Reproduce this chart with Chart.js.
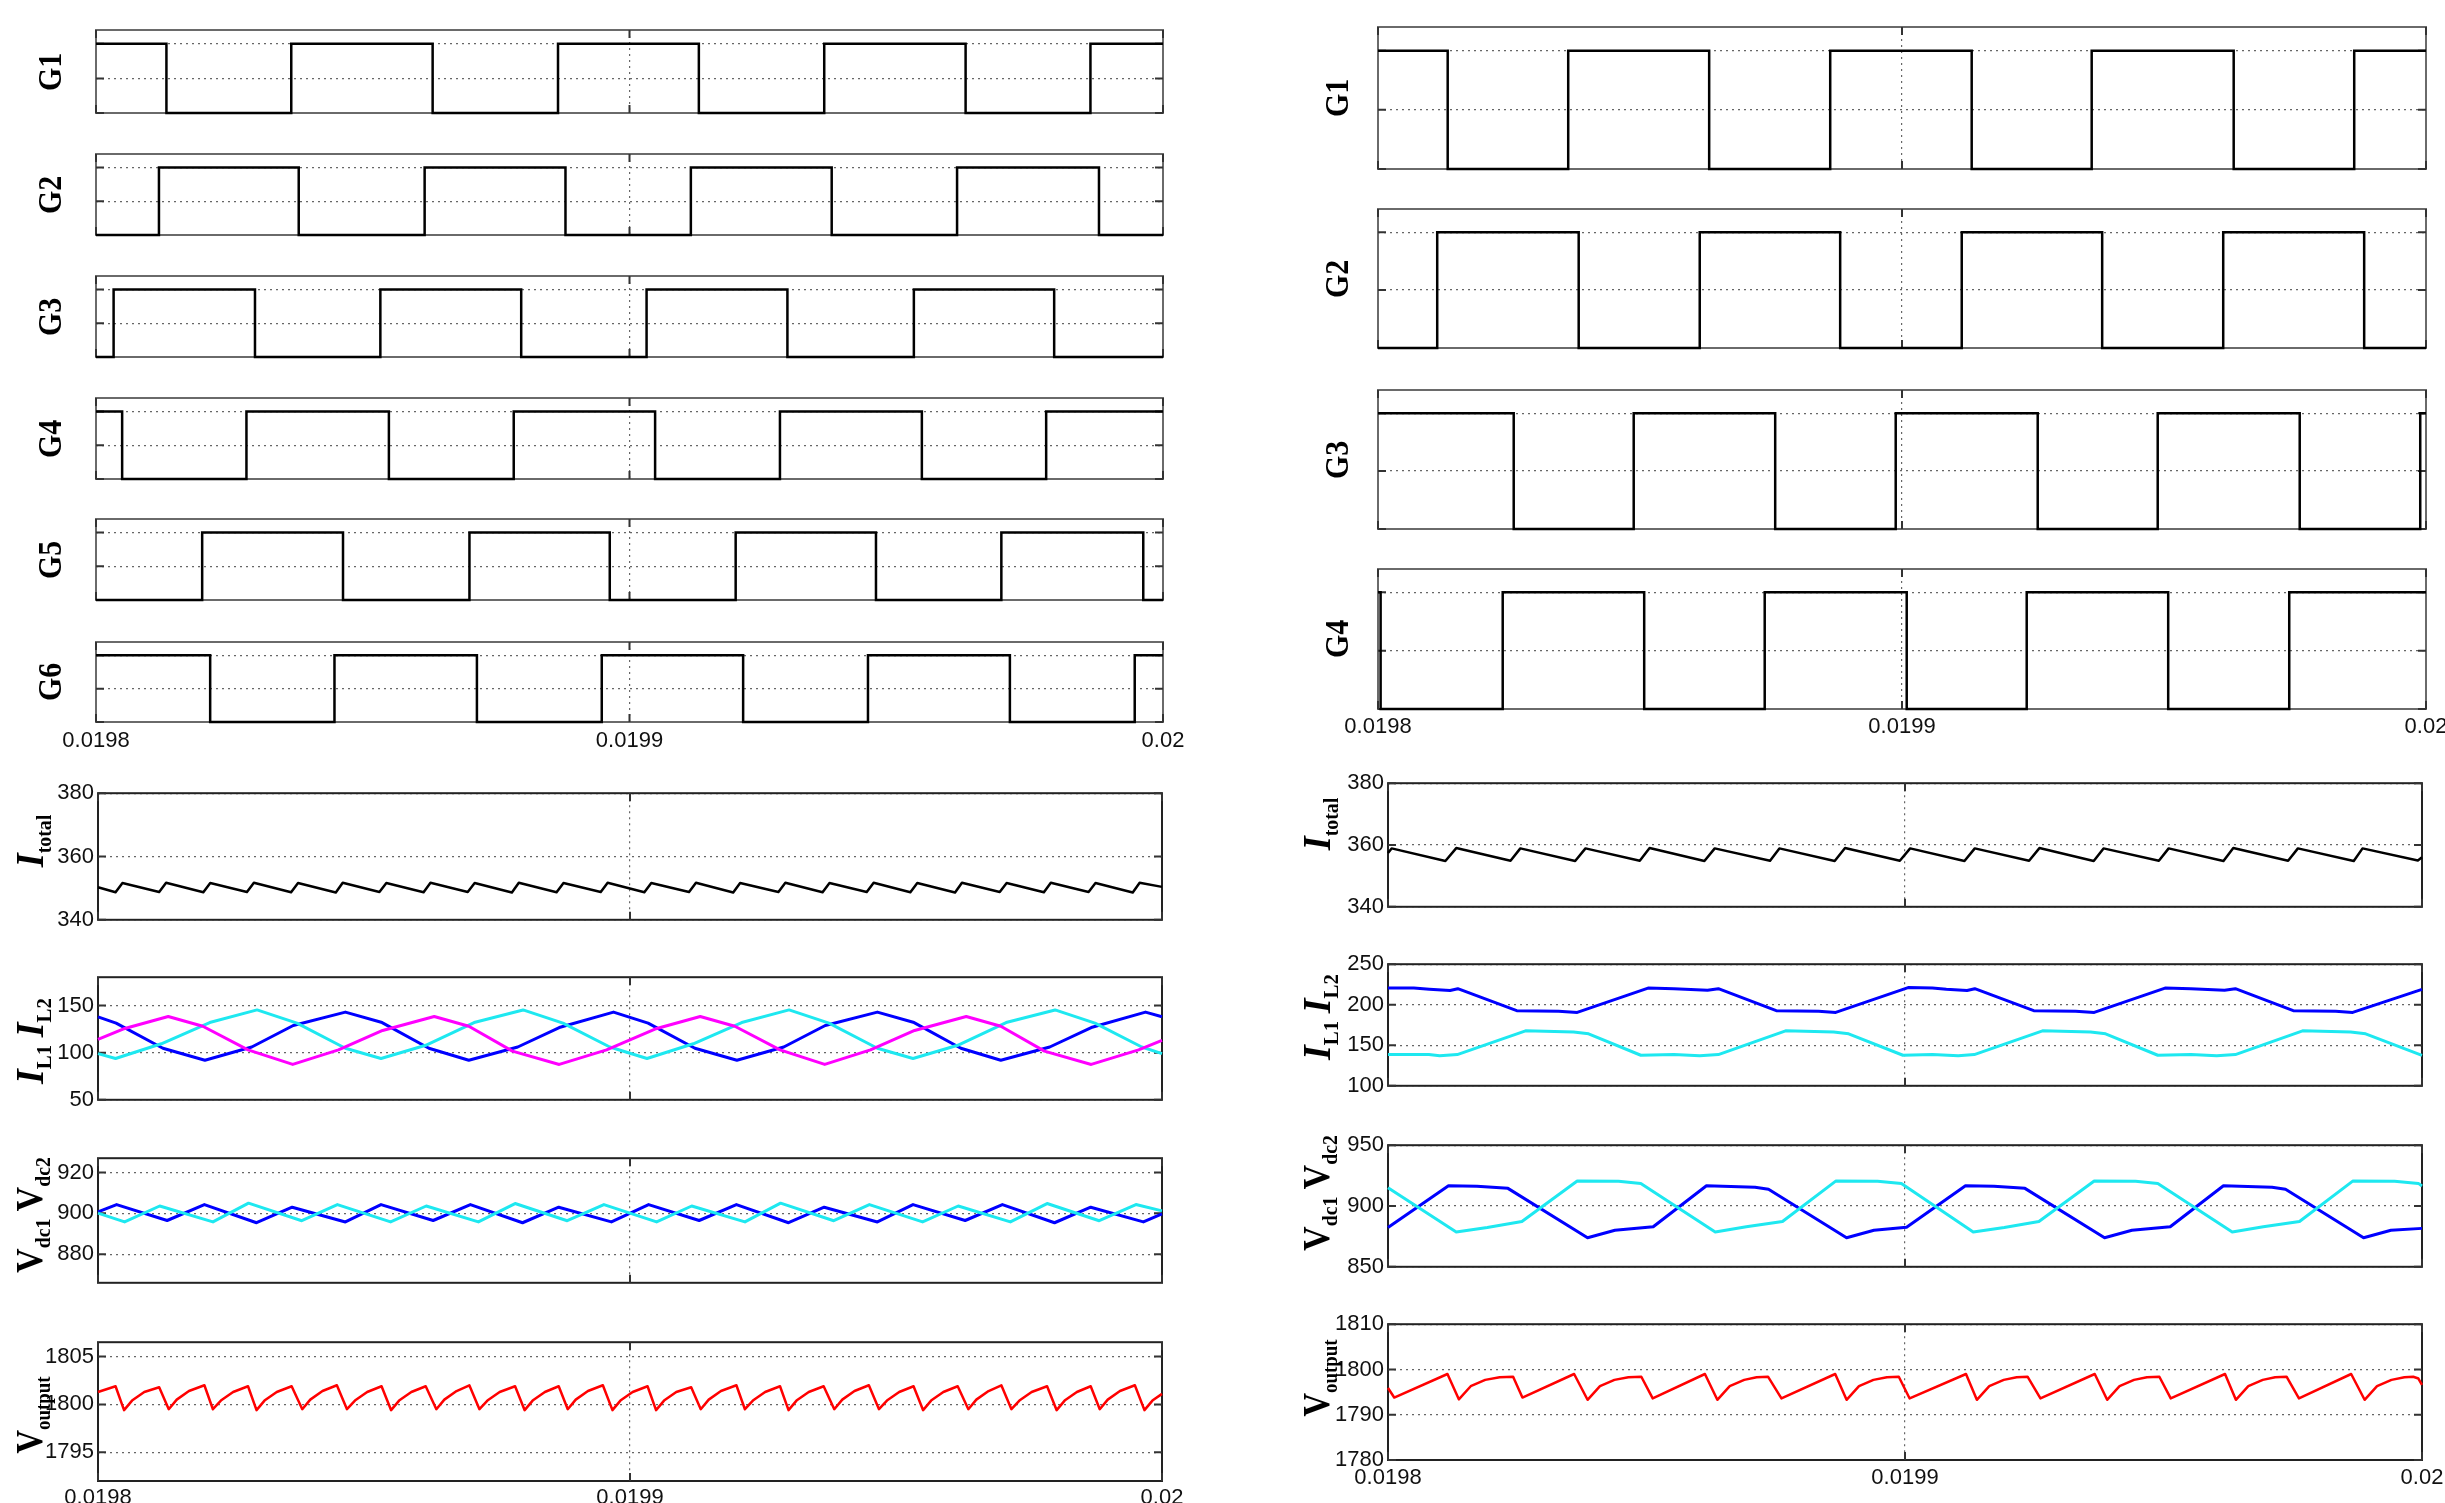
<!DOCTYPE html>
<html>
<head>
<meta charset="utf-8">
<title>Gate signals and converter waveforms</title>
<script src="https://cdn.jsdelivr.net/npm/chart.js@4.4.1/dist/chart.umd.min.js"></script>
<style>
  html, body { margin: 0; padding: 0; background: #fff; }
  body { width: 2445px; height: 1503px; position: relative; overflow: hidden; }
  canvas { position: absolute; }
  .ylab { position: absolute; white-space: nowrap; font-family: "Liberation Serif", "DejaVu Serif", serif;
          font-weight: bold; color: #000; line-height: 1; z-index: 5; font-size: 16px; }
  .ylab .g { font-size: 34px; }
  .ylab .v { font-size: 38px; }
  .ylab .i { font-size: 40px; font-style: italic; }
  .ylab sub { font-size: 22px; vertical-align: -8px; }
</style>
</head>
<body>
<script>
// time axis: microseconds after 0.0198 s
const xTickValues = [0, 100, 200];
const xTickLabels = ['0.0198', '0.0199', '0.02'];

// gate switching instants (us), left figure (6 phases)
const gLStart = [1, 0, 0, 1, 0, 1];
const gL1 = [13.2, 36.6, 63.1, 86.6, 113.0, 136.5, 163.0, 186.4];
const gL2 = [11.8, 38.0, 61.6, 88.0, 111.5, 137.9, 161.4, 188.0];
const gL3 = [3.3, 29.8, 53.3, 79.7, 103.2, 129.6, 153.3, 179.6];
const gL4 = [4.9, 28.2, 54.9, 78.3, 104.8, 128.2, 154.8, 178.1];
const gL5 = [19.9, 46.3, 70.0, 96.3, 119.9, 146.2, 169.7, 196.3];
const gL6 = [21.4, 44.7, 71.4, 94.8, 121.3, 144.7, 171.3, 194.7];

// gate switching instants (us), right figure (4 phases)
const gRStart = [1, 0, 1, 1];
const gR1 = [13.3, 36.3, 63.2, 86.3, 113.3, 136.2, 163.3, 186.3];
const gR2 = [11.3, 38.3, 61.4, 88.2, 111.4, 138.2, 161.3, 188.2];
const gR3 = [25.9, 48.8, 75.8, 98.8, 125.9, 148.8, 175.9, 198.9];
const gR4 = [0.5, 23.8, 50.8, 73.8, 100.9, 123.8, 150.8, 173.9];

// I_total, left
const itotL = [[0,350.3],[3.3,348.7],[4.6,351.6],[11.5,348.8],[12.8,351.7],[19.8,348.7],[21.1,351.6],[28.0,348.8],[29.3,351.7],
  [36.3,348.7],[37.6,351.6],[44.7,348.6],[46.0,351.7],[52.9,348.8],[54.2,351.6],[61.2,348.7],[62.5,351.7],[69.5,348.8],[70.8,351.6],
  [77.8,348.6],[79.1,351.7],[86.2,348.7],[87.5,351.6],[94.5,348.8],[95.8,351.7],[102.7,348.7],[104.0,351.6],[111.1,348.8],[112.4,351.7],
  [119.4,348.6],[120.7,351.6],[127.9,348.8],[129.2,351.7],[136.2,348.7],[137.5,351.6],[144.5,348.8],[145.8,351.7],[152.7,348.7],[154.0,351.6],
  [161.1,348.6],[162.4,351.7],[169.5,348.8],[170.8,351.6],[177.8,348.7],[179.1,351.7],[186.2,348.8],[187.5,351.6],[194.5,348.6],[195.8,351.7],[200,350.4]];

// I_L currents, left (magenta, cyan, blue)
const ilL_m = [[0,114],[4.7,125],[13.2,138.4],[19.7,128],[28.2,103],[36.6,87.5],[45.2,103],[53.5,123.5],[63.2,138.4],[69.7,128],[77.9,101.6],
  [86.7,87.5],[95.6,103],[104.7,125],[113.2,138.4],[119.7,128],[128.2,103],[136.6,87.5],[145.2,103],[153.5,123.5],[163.2,138.4],[169.7,128],
  [177.9,101.6],[186.7,87.5],[195.6,103],[200,113]];
const ilL_c = [[0,99],[3.3,93.8],[11.9,109.4],[21.0,131.9],[29.9,145.3],[37.4,131.3],[46.5,104.7],[53.2,93.8],[61.6,107.8],[70.7,131.9],
  [79.9,145.3],[87.4,131.3],[96.2,106],[103.2,93.8],[111.9,109.4],[121.0,131.9],[129.9,145.3],[137.4,131.3],[146.5,104.7],[153.2,93.8],
  [161.6,107.8],[170.7,131.9],[179.9,145.3],[187.4,131.3],[196.2,106],[200,99]];
const ilL_b = [[0,138],[3.4,131.3],[12.2,104.7],[20.1,92],[28.9,106],[36.7,128.8],[46.5,143],[53.4,131.9],[62.2,104.7],[69.7,92],[78.9,106],
  [86.7,126.6],[96.9,143],[103.4,131.3],[112.2,104.7],[120.1,92],[128.9,106],[136.7,128.8],[146.5,143],[153.4,131.9],[162.2,104.7],[169.7,92],
  [178.9,106],[186.7,126.6],[196.9,143],[200,138]];

// V_dc1 (blue) and V_dc2 (cyan), left
const vdcL_b = [[0,900.7],[3.5,904.3],[13.0,896.5],[20.0,904.3],[29.8,895.4],[36.5,903.0],[46.5,895.8],[53.2,904.3],[63.0,896.5],[70.0,904.3],
  [79.8,895.4],[86.6,903.0],[96.5,895.8],[103.5,904.3],[113.0,896.5],[120.0,904.3],[129.8,895.4],[136.5,903.0],[146.5,895.8],[153.2,904.3],
  [163.0,896.5],[170.0,904.3],[179.8,895.4],[186.6,903.0],[196.5,895.8],[200,899.8]];
const vdcL_c = [[0,900.1],[5.0,895.8],[11.6,903.6],[21.6,895.8],[28.3,905.0],[38.3,896.4],[45.0,904.3],[55.0,895.8],[61.7,903.6],[71.5,895.8],
  [78.4,904.8],[88.2,896.4],[95.1,904.3],[105.0,895.8],[111.6,903.6],[121.6,895.8],[128.3,905.0],[138.3,896.4],[145.0,904.3],[155.0,895.8],
  [161.7,903.6],[171.5,895.8],[178.4,904.8],[188.2,896.4],[195.1,904.3],[200,901.2]];

// V_output, left
const voutL = [[0,1801.3],[3.3,1801.9],
  [4.9,1799.4],[6.4,1800.4],[8.7,1801.3],[11.5,1801.8],[13.3,1799.5],[14.8,1800.5],[17.1,1801.4],[20.0,1802.0],
  [21.6,1799.5],[23.1,1800.4],[25.4,1801.3],[28.2,1801.9],[29.8,1799.4],[31.3,1800.4],[33.6,1801.3],[36.4,1801.9],
  [38.4,1799.5],[39.9,1800.5],[42.2,1801.4],[44.9,1802.0],[46.8,1799.5],[48.3,1800.4],[50.6,1801.3],[53.3,1801.9],
  [55.1,1799.4],[56.6,1800.4],[58.9,1801.3],[61.6,1801.9],[63.6,1799.5],[65.1,1800.5],[67.4,1801.4],[69.8,1802.0],
  [71.7,1799.5],[73.2,1800.4],[75.5,1801.3],[78.4,1801.9],[80.2,1799.4],[81.7,1800.4],[84.0,1801.3],[86.6,1801.9],
  [88.3,1799.5],[89.8,1800.5],[92.1,1801.4],[94.9,1802.0],[96.7,1799.4],[98.2,1800.4],[100.5,1801.3],[103.3,1801.9],
  [104.9,1799.4],[106.4,1800.4],[108.7,1801.3],[111.5,1801.8],[113.3,1799.5],[114.8,1800.5],[117.1,1801.4],[120.0,1802.0],
  [121.6,1799.5],[123.1,1800.4],[125.4,1801.3],[128.2,1801.9],[129.8,1799.4],[131.3,1800.4],[133.6,1801.3],[136.4,1801.9],
  [138.4,1799.5],[139.9,1800.5],[142.2,1801.4],[144.9,1802.0],[146.8,1799.5],[148.3,1800.4],[150.6,1801.3],[153.3,1801.9],
  [155.1,1799.4],[156.6,1800.4],[158.9,1801.3],[161.6,1801.9],[163.6,1799.5],[165.1,1800.5],[167.4,1801.4],[169.8,1802.0],
  [171.7,1799.5],[173.2,1800.4],[175.5,1801.3],[178.4,1801.9],[180.2,1799.4],[181.7,1800.4],[184.0,1801.3],[186.6,1801.9],
  [188.3,1799.5],[189.8,1800.5],[192.1,1801.4],[194.9,1802.0],[196.7,1799.4],[198.2,1800.4],[200,1801.1]];

// I_total, right
const itotR = [[0,357.4],[0.7,358.9],[11.1,354.8],[13.2,359.0],[23.7,354.9],[25.6,358.9],[36.2,354.8],[38.2,358.9],[48.7,354.9],[50.6,359.0],
  [61.2,354.8],[63.2,358.9],[73.9,354.9],[75.7,358.9],[86.4,354.8],[88.4,359.0],[99.0,354.9],[101.0,358.9],[111.5,354.8],[113.5,358.9],
  [124.0,354.9],[126.0,359.0],[136.5,354.8],[138.4,358.9],[149.1,354.9],[151.0,358.9],[161.6,354.8],[163.5,359.0],[174.1,354.9],[176.0,358.9],
  [186.8,354.8],[188.5,358.9],[199.2,355.0],[200,356.0]];

// I_L1 (blue) and I_L2 (cyan), right
const ilR_b = [[0,220.5],[5,220.5],[8,219],[12,217.5],[13.5,219.8],[24.9,192.7],[33,192],[36.6,190.5],[50.3,220.5],[55.3,219.8],[61.8,217.8],
  [63.9,219.8],[75.1,192.7],[83.3,192],[86.6,190.5],[100.6,221.2],[105.3,220.5],[108,219],[112,217.5],[113.5,219.8],[124.9,192.7],[133,192],
  [136.6,190.5],[150.3,220.5],[155.3,219.8],[161.8,217.8],[163.9,219.8],[175.1,192.7],[183.3,192],[186.6,190.5],[200,219]];
const ilR_c = [[0,138.5],[7.9,138.5],[10,137],[13.4,138.5],[26.6,167.8],[35.9,166.3],[38.8,164.1],[48.9,137.7],[55.3,138.5],[60.3,137],
  [63.9,138.5],[76.9,167.8],[86.2,166.3],[89.1,164.1],[99.6,137.7],[105.3,138.5],[110.3,137],[113.4,138.5],[126.6,167.8],[135.9,166.3],
  [138.8,164.1],[148.9,137.7],[155.3,138.5],[160.3,137],[163.9,138.5],[176.9,167.8],[186.2,166.3],[189.1,164.1],[200,137.5]];

// V_dc1 (blue) and V_dc2 (cyan), right
const vdcR_b = [[0,882.4],[11.7,916.7],[17.2,916.2],[23.2,914.5],[38.6,873.9],[43.9,880],[51.3,882.9],[61.6,916.7],[71,915.5],[73.6,913.8],
  [88.7,873.9],[94,880],[100.3,882.6],[111.7,916.7],[117.2,916.2],[123.2,914.5],[138.6,873.9],[143.9,880],[151.3,882.9],[161.6,916.7],
  [171,915.5],[173.6,913.8],[188.7,873.9],[194,880],[200,881.6]];
const vdcR_c = [[0,915],[13.2,878.7],[19.2,882.4],[25.9,887.2],[36.6,920.5],[44.6,920.3],[48.9,918.6],[63.3,878.7],[69.3,882.9],[76.3,887.2],
  [86.6,920.5],[94.7,920.3],[99.3,918.6],[113.2,878.7],[119.2,882.4],[125.9,887.2],[136.6,920.5],[144.6,920.3],[148.9,918.6],[163.3,878.7],
  [169.3,882.9],[176.3,887.2],[186.6,920.5],[194.7,920.3],[199.3,918.6],[200,916.5]];

// V_output, right
const voutR = [[0,1795.9],[1.2,1793.8],[11.5,1799.0],[13.7,1793.4],[16.0,1796.3],[18.8,1797.7],[21.6,1798.3],[24.2,1798.4],[26.0,1793.8],
  [36.0,1799.0],[38.6,1793.3],[41.0,1796.3],[43.8,1797.7],[46.5,1798.3],[49.0,1798.4],[51.2,1793.6],[61.3,1799.0],[63.7,1793.3],[66.1,1796.3],
  [68.9,1797.7],[71.3,1798.3],[73.5,1798.4],[76.1,1793.6],[86.5,1799.0],[88.7,1793.3],[91.1,1796.3],[93.9,1797.7],[96.5,1798.3],[98.8,1798.4],
  [100.9,1793.6],[111.8,1799.0],[113.9,1793.3],[116.3,1796.3],[119.1,1797.7],[121.6,1798.3],[123.7,1798.4],[126.2,1793.6],[136.7,1799.0],
  [139.1,1793.3],[141.5,1796.3],[144.3,1797.7],[146.8,1798.3],[149.2,1798.4],[151.4,1793.6],[161.9,1799.0],[164.0,1793.3],[166.4,1796.3],
  [169.2,1797.7],[171.6,1798.3],[173.8,1798.4],[176.2,1793.6],[186.3,1799.0],[188.9,1793.3],[191.3,1796.3],[194.1,1797.7],[196.6,1798.3],
  [198.3,1798.4],[199.3,1798.0],[200,1796.6]];

const BLACK = '#000000', BLUE = '#0000ff', CYAN = '#1ee8f0', MAGENTA = '#ff00ff', RED = '#ff0000';

Chart.defaults.font.family = '"Liberation Sans", Arial, sans-serif';
Chart.defaults.color = '#111';

function gateSteps(start, edges) {
  const pts = [{x: 0, y: start}];
  let lvl = start;
  edges.forEach(e => { lvl = 1 - lvl; pts.push({x: e, y: lvl}); });
  pts.push({x: 200, y: lvl});
  return pts;
}
const toXY = pairs => pairs.map(([x, y]) => ({x, y}));

// box + inward tick marks, drawn under the traces
const framePlugin = {
  id: 'frame',
  beforeDatasetsDraw(chart) {
    const {ctx, chartArea: a} = chart;
    const xs = chart.scales.x, ys = chart.scales.y;
    const o = chart.options.plugins.frame;
    ctx.save();
    ctx.strokeStyle = o.color;
    ctx.lineWidth = 2;
    ctx.strokeRect(a.left, a.top, a.right - a.left, a.bottom - a.top);
    ctx.strokeStyle = '#333';
    ctx.beginPath();
    ys.ticks.forEach(t => {
      const py = ys.getPixelForValue(t.value);
      ctx.moveTo(a.left, py); ctx.lineTo(a.left + 8, py);
      ctx.moveTo(a.right, py); ctx.lineTo(a.right - 8, py);
    });
    xs.ticks.forEach(t => {
      const px = xs.getPixelForValue(t.value);
      ctx.moveTo(px, a.top); ctx.lineTo(px, a.top + 8);
      ctx.moveTo(px, a.bottom); ctx.lineTo(px, a.bottom - 8);
    });
    ctx.stroke();
    ctx.restore();
  }
};

function panel(p) {
  const padL = 80, padT = 14, padR = 30, padB = 4;
  const axisH = p.xLabels ? 38 : 0;
  const W = p.rect[2] + padL + padR, H = p.rect[3] + padT + axisH + padB;
  const cv = document.createElement('canvas');
  cv.width = W; cv.height = H;
  cv.style.left = (p.rect[0] - padL) + 'px';
  cv.style.top = (p.rect[1] - padT) + 'px';
  cv.style.width = W + 'px'; cv.style.height = H + 'px';
  document.body.appendChild(cv);
  const gate = !!p.gate;
  new Chart(cv, {
    type: 'line',
    data: {
      datasets: p.series.map(s => ({
        data: s.data, borderColor: s.color, borderWidth: s.width || 3,
        stepped: gate ? 'before' : false, pointRadius: 0, fill: false,
        tension: 0, clip: 6, borderJoinStyle: gate ? 'miter' : 'round'
      }))
    },
    options: {
      responsive: false, animation: false, events: [],
      layout: { autoPadding: false, padding: { left: 0, top: padT, right: padR, bottom: padB } },
      plugins: { legend: { display: false }, tooltip: { enabled: false },
                 frame: { color: gate ? '#6a6a6a' : '#222' } },
      scales: {
        x: {
          type: 'linear', min: 0, max: 200,
          afterBuildTicks: s => { s.ticks = xTickValues.map(v => ({value: v})); },
          afterFit: s => { s.height = axisH; },
          ticks: { display: !!p.xLabels, padding: p.xPad || 6, maxRotation: 0, autoSkip: false,
                   font: { size: 22 }, color: '#111',
                   callback: v => xTickLabels[xTickValues.indexOf(v)] },
          grid: { color: '#666', lineWidth: 1.2, drawTicks: false },
          border: { display: false, dash: [2, 4] }
        },
        y: {
          type: 'linear', min: p.ymin, max: p.ymax,
          afterBuildTicks: s => { s.ticks = p.yTicks.map(v => ({value: v})); },
          afterFit: s => { s.width = padL; },
          ticks: { display: !gate, padding: 4, font: { size: 22 }, color: '#111',
                   callback: v => String(v) },
          grid: { color: '#666', lineWidth: 1.2, drawTicks: false },
          border: { display: false, dash: [2, 4] }
        }
      }
    },
    plugins: [framePlugin]
  });
}

function ylabel(x, y, html, stretch) {
  const d = document.createElement('div');
  d.className = 'ylab';
  d.style.left = x + 'px';
  d.style.top = y + 'px';
  d.style.transform = 'translate(-50%, -50%) rotate(-90deg) scale(' + stretch + ', 1)';
  d.innerHTML = html;
  document.body.appendChild(d);
}

const gateTicks = [0, 0.5, 1];
const labTotal = '<span class="i">I</span><sub>total</sub>';
const labIL = '<span class="i">I</span><sub>L1</sub>&nbsp;&nbsp;<span class="i">I</span><sub>L2</sub>';
const labVdc = '<span class="v">V</span><sub>dc1</sub>&nbsp;&nbsp;<span class="v">V</span><sub>dc2</sub>';
const labVout = '<span class="v">V</span><sub>output</sub>';

// left figure
const leftGates = [gL1, gL2, gL3, gL4, gL5, gL6];
const leftGateRects = [[96,30,1067,83],[96,154,1067,81],[96,276,1067,81],[96,398,1067,81],[96,519,1067,81],[96,642,1067,80]];
leftGates.forEach((edges, i) => {
  panel({ rect: leftGateRects[i], gate: true, ymin: 0, ymax: 1.2, yTicks: gateTicks, xLabels: i === 5, xPad: 6,
          series: [{ data: gateSteps(gLStart[i], edges), color: BLACK, width: 2.5 }] });
  const r = leftGateRects[i];
  ylabel(50, r[1] + r[3] / 2, '<span class="g">G' + (i + 1) + '</span>', 0.88);
});
panel({ rect: [98,790,1064,143], ymin: 340, ymax: 380, yTicks: [340,360,380],
        series: [{ data: toXY(itotL), color: BLACK, width: 2.5 }] });
panel({ rect: [98,974,1064,139], ymin: 50, ymax: 180, yTicks: [50,100,150],
        series: [{ data: toXY(ilL_m), color: MAGENTA }, { data: toXY(ilL_c), color: CYAN }, { data: toXY(ilL_b), color: BLUE }] });
panel({ rect: [98,1155,1064,141], ymin: 866, ymax: 927, yTicks: [880,900,920],
        series: [{ data: toXY(vdcL_c), color: CYAN }, { data: toXY(vdcL_b), color: BLUE }] });
panel({ rect: [98,1339,1064,142], ymin: 1792, ymax: 1806.5, yTicks: [1795,1800,1805], xLabels: true, xPad: 4,
        series: [{ data: toXY(voutL), color: RED, width: 2.5 }] });
ylabel(32, 841, labTotal, 0.9);
ylabel(32, 1041, labIL, 0.95);
ylabel(32, 1215, labVdc, 0.9);
ylabel(32, 1415, labVout, 0.86);

// right figure
const rightGates = [gR1, gR2, gR3, gR4];
const rightGateRects = [[1378,27,1048,142],[1378,209,1048,139],[1378,390,1048,139],[1378,569,1048,140]];
rightGates.forEach((edges, i) => {
  panel({ rect: rightGateRects[i], gate: true, ymin: 0, ymax: 1.2, yTicks: gateTicks, xLabels: i === 3, xPad: 5,
          series: [{ data: gateSteps(gRStart[i], edges), color: BLACK, width: 2.5 }] });
  const r = rightGateRects[i];
  ylabel(1337, r[1] + r[3] / 2, '<span class="g">G' + (i + 1) + '</span>', 0.88);
});
panel({ rect: [1388,780,1034,140], ymin: 340, ymax: 380, yTicks: [340,360,380],
        series: [{ data: toXY(itotR), color: BLACK, width: 2.5 }] });
panel({ rect: [1388,961,1034,138], ymin: 100, ymax: 250, yTicks: [100,150,200,250],
        series: [{ data: toXY(ilR_c), color: CYAN }, { data: toXY(ilR_b), color: BLUE }] });
panel({ rect: [1388,1142,1034,138], ymin: 850, ymax: 950, yTicks: [850,900,950],
        series: [{ data: toXY(vdcR_c), color: CYAN }, { data: toXY(vdcR_b), color: BLUE }] });
panel({ rect: [1388,1321,1034,139], ymin: 1780, ymax: 1810, yTicks: [1780,1790,1800,1810], xLabels: true, xPad: 5,
        series: [{ data: toXY(voutR), color: RED, width: 2.5 }] });
ylabel(1319, 824, labTotal, 0.9);
ylabel(1319, 1017, labIL, 0.95);
ylabel(1319, 1193, labVdc, 0.9);
ylabel(1319, 1378, labVout, 0.86);
</script>
</body>
</html>
